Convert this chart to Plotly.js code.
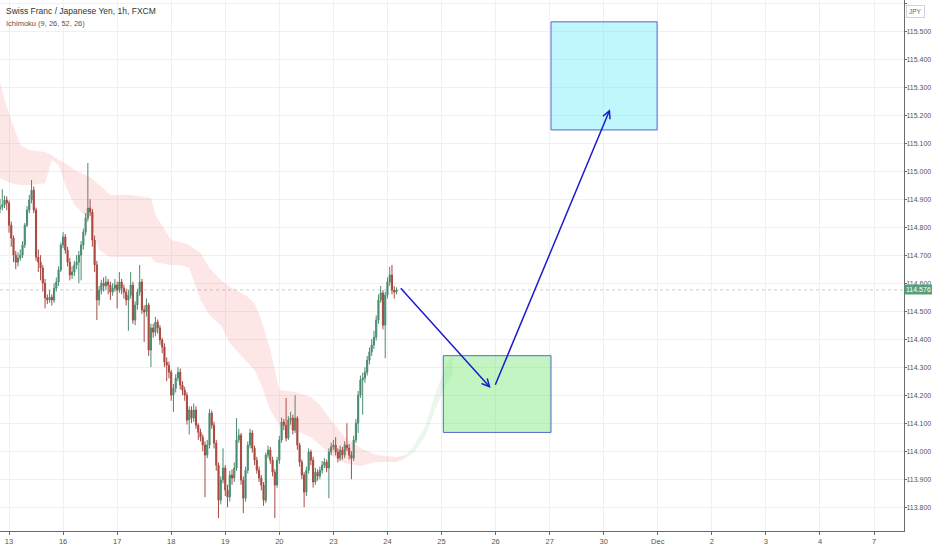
<!DOCTYPE html>
<html>
<head>
<meta charset="utf-8">
<script src="https://cdn.plot.ly/plotly-3.0.1.min.js"></script>
<style>
  html, body { margin: 0; padding: 0; background: #ffffff; }
  #chart { width: 932px; height: 550px; }
</style>
</head>
<body>
<div id="chart"></div>
<script>
/* ==========================================================
   CHF/JPY 1h - Ichimoku + trade idea boxes
========================================================== */

// ==========================================================
// DATA (hourly bars, bar 4 = Nov 13 00:00)
// ==========================================================

let opens = [
114.865,114.872,114.879,114.897,114.886,114.807,114.761,114.700,114.675,114.690,
114.700,114.736,114.807,114.861,114.897,114.932,114.861,114.693,114.675,114.654,
114.600,114.547,114.540,114.550,114.540,114.582,114.604,114.647,114.736,114.765,
114.718,114.675,114.629,114.640,114.665,114.675,114.700,114.736,114.782,114.832,
114.868,114.854,114.754,114.665,114.540,114.575,114.600,114.590,114.604,114.593,
114.568,114.582,114.593,114.575,114.604,114.582,114.568,114.540,114.557,114.593,
114.468,114.522,114.568,114.604,114.504,114.497,114.522,114.361,114.440,114.425,
114.461,114.440,114.397,114.372,114.318,114.307,114.282,114.200,114.225,114.261,
114.282,114.236,114.218,114.200,114.111,114.147,114.118,114.147,114.093,114.068,
114.050,114.022,113.986,114.022,114.136,114.093,114.029,113.950,113.825,113.897,
113.940,113.861,113.836,113.915,113.904,113.940,114.040,114.057,113.897,113.832,
113.932,114.022,114.065,114.011,113.968,113.932,113.904,113.879,113.825,113.986,
114.004,113.968,113.925,113.879,113.968,114.040,114.104,114.093,114.047,114.111,
114.118,114.075,114.118,114.022,113.961,113.915,113.854,113.932,113.997,113.968,
113.890,113.925,113.911,113.932,113.950,113.961,113.940,113.997,114.015,114.022,
113.997,113.975,114.004,113.986,114.022,114.011,113.986,113.975,114.040,114.100,
114.200,114.254,114.261,114.282,114.325,114.354,114.379,114.407,114.468,114.540,
114.565,114.450,114.557,114.604,114.629,114.575,114.568
];

let highs = [
114.900,114.935,114.912,114.910,114.895,114.820,114.770,114.715,114.710,114.720,
114.750,114.815,114.875,114.915,114.968,114.945,114.870,114.720,114.700,114.665,
114.615,114.560,114.575,114.560,114.600,114.620,114.660,114.745,114.782,114.775,
114.730,114.690,114.660,114.680,114.700,114.715,114.750,114.795,114.850,115.029,
114.900,114.865,114.770,114.680,114.590,114.612,114.620,114.625,114.615,114.605,
114.600,114.615,114.605,114.640,114.615,114.595,114.580,114.575,114.640,114.605,
114.535,114.580,114.665,114.615,114.520,114.545,114.530,114.455,114.455,114.480,
114.470,114.450,114.405,114.385,114.335,114.320,114.290,114.240,114.275,114.300,
114.295,114.250,114.230,114.210,114.160,114.160,114.170,114.160,114.100,114.080,
114.060,114.035,114.040,114.150,114.145,114.105,114.040,113.960,113.910,114.010,
113.950,113.880,113.930,113.935,113.960,114.118,114.080,114.065,113.910,113.945,
114.035,114.080,114.075,114.020,113.980,113.945,113.915,113.890,113.995,114.020,
114.015,113.980,113.935,113.980,114.055,114.120,114.115,114.190,114.125,114.140,
114.130,114.200,114.125,114.030,113.970,113.925,113.945,114.010,114.005,113.980,
113.940,113.935,113.945,113.965,113.975,113.970,114.010,114.030,114.040,114.050,
114.010,114.020,114.015,114.035,114.100,114.025,114.000,114.055,114.115,114.215,
114.270,114.280,114.300,114.340,114.370,114.400,114.430,114.485,114.560,114.590,
114.575,114.570,114.620,114.658,114.665,114.590,114.585
];

let lows = [
114.850,114.860,114.868,114.860,114.780,114.730,114.675,114.650,114.660,114.680,
114.690,114.725,114.800,114.850,114.885,114.850,114.680,114.640,114.610,114.570,
114.510,114.525,114.530,114.520,114.530,114.570,114.590,114.640,114.725,114.705,
114.660,114.610,114.615,114.625,114.650,114.600,114.610,114.720,114.770,114.820,
114.840,114.730,114.640,114.468,114.520,114.560,114.570,114.575,114.560,114.540,
114.555,114.570,114.510,114.565,114.560,114.545,114.520,114.430,114.545,114.455,
114.450,114.505,114.555,114.490,114.390,114.480,114.340,114.300,114.405,114.410,
114.420,114.380,114.350,114.300,114.250,114.260,114.180,114.140,114.210,114.250,
114.220,114.200,114.180,114.095,114.060,114.100,114.105,114.080,114.040,114.035,
114.000,113.836,113.975,114.010,114.080,114.010,113.930,113.761,113.810,113.885,
113.840,113.800,113.820,113.880,113.890,113.930,114.030,113.880,113.779,113.820,
113.920,114.010,113.995,113.950,113.920,113.890,113.860,113.805,113.815,113.975,
113.955,113.910,113.761,113.870,113.955,114.030,114.075,114.035,114.040,114.095,
114.060,114.065,114.005,113.945,113.900,113.800,113.840,113.920,113.950,113.870,
113.880,113.895,113.900,113.920,113.940,113.925,113.832,113.985,114.005,113.985,
113.960,113.965,113.970,113.975,114.000,113.970,113.900,113.965,114.030,114.065,
114.190,114.130,114.245,114.270,114.310,114.340,114.365,114.395,114.455,114.530,
114.435,114.332,114.545,114.590,114.560,114.545,114.560
];

let closes = [
114.872,114.879,114.897,114.886,114.807,114.761,114.700,114.675,114.690,114.700,
114.736,114.807,114.861,114.897,114.932,114.861,114.693,114.675,114.654,114.600,
114.547,114.540,114.550,114.540,114.582,114.604,114.647,114.736,114.765,114.718,
114.675,114.629,114.640,114.665,114.675,114.700,114.736,114.782,114.832,114.868,
114.854,114.754,114.665,114.540,114.575,114.600,114.590,114.604,114.593,114.568,
114.582,114.593,114.575,114.604,114.582,114.568,114.540,114.557,114.593,114.468,
114.522,114.568,114.604,114.504,114.497,114.522,114.361,114.440,114.425,114.461,
114.440,114.397,114.372,114.318,114.307,114.282,114.200,114.225,114.261,114.282,
114.236,114.218,114.200,114.111,114.147,114.118,114.147,114.093,114.068,114.050,
114.022,113.986,114.022,114.136,114.093,114.029,113.950,113.825,113.897,113.940,
113.861,113.836,113.915,113.904,113.940,114.040,114.057,113.897,113.832,113.932,
114.022,114.065,114.011,113.968,113.932,113.904,113.879,113.825,113.986,114.004,
113.968,113.925,113.879,113.968,114.040,114.104,114.093,114.047,114.111,114.118,
114.075,114.118,114.022,113.961,113.915,113.854,113.932,113.997,113.968,113.890,
113.925,113.911,113.932,113.950,113.961,113.940,113.997,114.015,114.022,113.997,
113.975,114.004,113.986,114.022,114.011,113.986,113.975,114.040,114.100,114.200,
114.254,114.261,114.282,114.325,114.354,114.379,114.407,114.468,114.540,114.565,
114.450,114.557,114.604,114.629,114.575,114.568,114.576
];

// Ichimoku cloud (kumo) edges, shifted 26 bars ahead
let redCloudBar = [0,2,5,9,13,20,23,26,29,33,40,44,49,58,67,69,76,80,84,89,93,98,102,109,113,116,120,124,131,138,142,147,153,160,167,176,180];
let redCloudTop = [115.318,115.254,115.182,115.093,115.075,115.068,115.057,115.040,115.029,115.004,114.979,114.950,114.915,114.915,114.904,114.843,114.754,114.747,114.736,114.707,114.654,114.611,114.586,114.557,114.529,114.468,114.361,114.218,114.211,114.193,114.165,114.111,114.050,114.011,113.986,113.979,113.986];
let redCloudBottom = [114.975,114.968,114.957,114.950,114.950,114.957,115.040,115.022,114.950,114.879,114.825,114.718,114.693,114.693,114.693,114.675,114.665,114.665,114.654,114.540,114.486,114.450,114.386,114.325,114.290,114.236,114.147,114.093,114.075,114.050,114.022,113.986,113.957,113.947,113.961,113.961,113.975];

let greenCloudBar = [180,184,189,193,198,201];
let greenCloudTop = [113.986,114.022,114.093,114.200,114.307,114.343];
let greenCloudBottom = [113.975,113.997,114.057,114.147,114.236,114.272];

// Day labels (bar index of each midnight)
let dayTickBars = [4,28,52,76,100,124,148,172,196,220,244,268,292,316,340,364,388];
let dayTickText = ["13","16","17","18","19","20","23","24","25","26","27","30","Dec","2","3","4","7"];

let lastPrice = 114.576;


// ==========================================================
// BUILD CHART
// ==========================================================

document.addEventListener("DOMContentLoaded", function () {

    let bars = closes.map((c, i) => i);

    let fontFamily =
        "'Liberation Sans', Arial, sans-serif";

    let traces = [

        // red kumo
        {
            x: redCloudBar, y: redCloudBottom,
            type: "scatter", mode: "lines",
            line: { width: 0, color: "rgba(0,0,0,0)" },
            hoverinfo: "skip"
        },
        {
            x: redCloudBar, y: redCloudTop,
            type: "scatter", mode: "lines",
            line: { width: 0, color: "rgba(0,0,0,0)" },
            fill: "tonexty",
            fillcolor: "rgba(244,80,80,0.14)",
            hoverinfo: "skip"
        },

        // green kumo
        {
            x: greenCloudBar, y: greenCloudBottom,
            type: "scatter", mode: "lines",
            line: { width: 0, color: "rgba(0,0,0,0)" },
            hoverinfo: "skip"
        },
        {
            x: greenCloudBar, y: greenCloudTop,
            type: "scatter", mode: "lines",
            line: { width: 0, color: "rgba(0,0,0,0)" },
            fill: "tonexty",
            fillcolor: "rgba(90,180,100,0.12)",
            hoverinfo: "skip"
        },

        // candles
        {
            x: bars,
            open: opens, high: highs, low: lows, close: closes,
            type: "candlestick",
            increasing: { line: { color: "#4a8c70", width: 1 }, fillcolor: "#3f8a68" },
            decreasing: { line: { color: "#a84a42", width: 1 }, fillcolor: "#a83a30" },
            hoverinfo: "skip"
        }
    ];

    let boxLine = { color: "#5566d6", width: 1 };
    let arrowColor = "#1c1ccf";

    let layout = {
        width: 932,
        height: 550,
        margin: { l: 0, r: 28, t: 0, b: 19 },
        paper_bgcolor: "#ffffff",
        plot_bgcolor: "#ffffff",
        showlegend: false,
        hovermode: false,
        font: { family: fontFamily, size: 7, color: "#555555" },

        xaxis: {
            type: "linear",
            range: [0, 401.3],
            rangeslider: { visible: false },
            tickmode: "array",
            tickvals: dayTickBars,
            ticktext: dayTickText,
            showgrid: true,
            gridcolor: "#eef0f3",
            gridwidth: 1,
            zeroline: false,
            showline: true,
            linecolor: "#6b6b6b",
            linewidth: 1,
            ticks: "outside",
            ticklen: 3,
            tickcolor: "#6b6b6b",
            tickfont: { family: fontFamily, size: 7.5, color: "#555555" },
            fixedrange: true
        },

        yaxis: {
            side: "right",
            range: [113.715, 115.611],
            dtick: 0.1,
            tick0: 113.8,
            tickformat: ".3f",
            showgrid: true,
            gridcolor: "#eef0f3",
            gridwidth: 1,
            zeroline: false,
            showline: true,
            linecolor: "#6b6b6b",
            linewidth: 1,
            ticks: "outside",
            ticklen: 2,
            ticklabelstandoff: -2,
            tickcolor: "#6b6b6b",
            tickfont: { family: fontFamily, size: 7, color: "#555555" },
            fixedrange: true
        },

        shapes: [
            // last price line
            {
                type: "line", xref: "paper", yref: "y",
                x0: 0, x1: 1, y0: lastPrice, y1: lastPrice,
                line: { color: "rgba(120,150,135,0.45)", width: 1, dash: "dot" }
            },
            // entry zone
            {
                type: "rect", xref: "x", yref: "y",
                x0: 196.8, x1: 244.6, y0: 114.067, y1: 114.341,
                fillcolor: "rgba(110,232,110,0.42)",
                line: boxLine
            },
            // target zone
            {
                type: "rect", xref: "x", yref: "y",
                x0: 244.6, x1: 291.7, y0: 115.147, y1: 115.533,
                fillcolor: "rgba(90,235,250,0.38)",
                line: boxLine
            }
        ],

        annotations: [
            // arrows
            {
                x: 217.8, y: 114.226, ax: 177.3, ay: 114.587,
                xref: "x", yref: "y", axref: "x", ayref: "y",
                text: "", showarrow: true,
                arrowhead: 5, arrowsize: 1, arrowwidth: 1.5,
                arrowcolor: arrowColor
            },
            {
                x: 270.8, y: 115.221, ax: 219.6, ay: 114.232,
                xref: "x", yref: "y", axref: "x", ayref: "y",
                text: "", showarrow: true,
                arrowhead: 5, arrowsize: 1, arrowwidth: 1.5,
                arrowcolor: arrowColor
            },

            // header
            {
                xref: "paper", yref: "paper", x: 0.004, y: 0.979,
                xanchor: "left", yanchor: "middle", showarrow: false,
                text: "Swiss Franc / Japanese Yen, 1h, FXCM",
                font: { family: fontFamily, size: 8.5, color: "#333333" }
            },
            {
                xref: "paper", yref: "paper", x: 0.004, y: 0.955,
                xanchor: "left", yanchor: "middle", showarrow: false,
                text: "Ichimoku (9, 26, 52, 26)",
                font: { family: fontFamily, size: 7.5, color: "#555555" }
            },

            // currency badge
            {
                xref: "paper", yref: "paper", x: 1.0125, y: 0.979,
                xanchor: "center", yanchor: "middle", showarrow: false,
                text: "JPY",
                bordercolor: "#cfd3da", borderwidth: 1, borderpad: 2,
                bgcolor: "#ffffff",
                font: { family: fontFamily, size: 6.5, color: "#666666" }
            },

            // last price label
            {
                xref: "paper", yref: "y", x: 1, y: lastPrice,
                xanchor: "left", yanchor: "middle", showarrow: false,
                text: "114.576",
                bgcolor: "#57a07e", borderpad: 1,
                font: { family: fontFamily, size: 7, color: "#ffffff" }
            }
        ]
    };

    let plotConfig = { staticPlot: true, displayModeBar: false };

    Plotly.newPlot("chart", traces, layout, plotConfig);

});
</script>
</body>
</html>
